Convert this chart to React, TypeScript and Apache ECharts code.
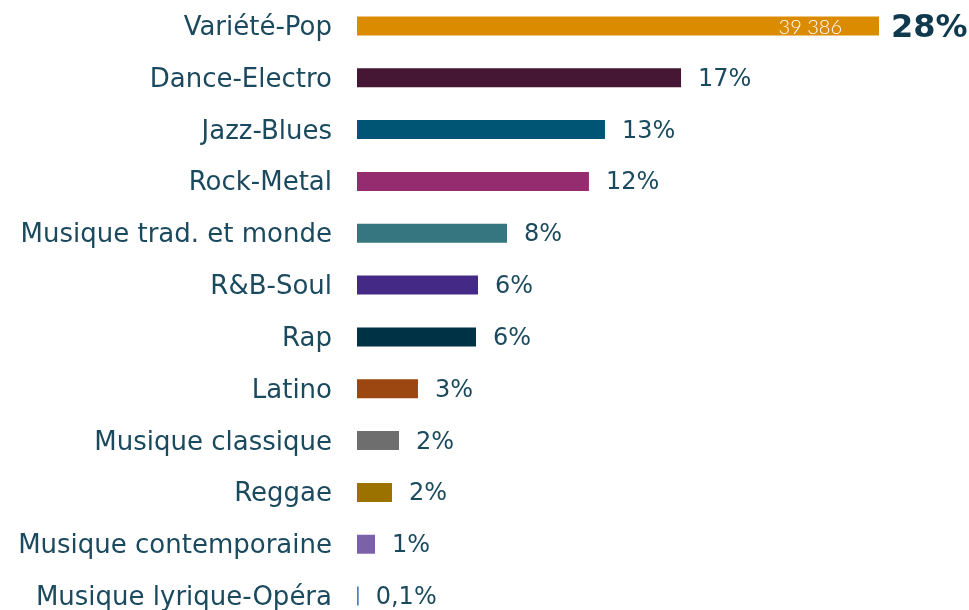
import React, { useEffect, useRef } from "react";
import * as echarts from "echarts";

const categories = [
  "Variété-Pop",
  "Dance-Electro",
  "Jazz-Blues",
  "Rock-Metal",
  "Musique trad. et monde",
  "R&B-Soul",
  "Rap",
  "Latino",
  "Musique classique",
  "Reggae",
  "Musique contemporaine",
  "Musique lyrique-Opéra",
];
const values = [39386, 24450, 18710, 17500, 11320, 9130, 8980, 4600, 3170, 2640, 1360, 130];
const percents = ["28%", "17%", "13%", "12%", "8%", "6%", "6%", "3%", "2%", "2%", "1%", "0,1%"];
const insideLabels = ["39 386", "", "", "", "", "", "", "", "", "", "", ""];
const colors = [
  "#DB8B00",
  "#461735",
  "#005574",
  "#962C70",
  "#357681",
  "#442A86",
  "#003246",
  "#9C4612",
  "#6E6E6E",
  "#9B7200",
  "#7B62A8",
  "#4F81BD",
];

const TEXT = "#1b4a5e";
const FONT = "DejaVu Sans";

export default function App() {
  const ref = useRef<HTMLDivElement>(null);
  useEffect(() => {
    if (!ref.current) return;
    const chart = echarts.init(ref.current, undefined, { renderer: "svg" });
    chart.setOption({
      animation: false,
      grid: {
        left: 357,
        right: 90,
        top: 0,
        bottom: -12,
        outerBoundsMode: "none",
        containLabel: false,
      },
      xAxis: {
        type: "value",
        min: 0,
        max: "dataMax",
        show: false,
      },
      yAxis: {
        type: "category",
        data: categories,
        inverse: true,
        axisLine: { show: false },
        axisTick: { show: false },
        axisLabel: {
          margin: 25,
          fontSize: 26,
          color: TEXT,
          fontFamily: FONT,
        },
      },
      series: [
        {
          type: "bar",
          barWidth: 19,
          data: values.map((v, i) => ({
            value: v,
            itemStyle: { color: colors[i] },
            label:
              i === 0
                ? { fontSize: 32, fontWeight: "bold", distance: 12, color: "#0f3a4e" }
                : {},
          })),
          label: {
            show: true,
            position: "right",
            distance: 17,
            fontSize: 24,
            color: TEXT,
            fontFamily: FONT,
            formatter: (p: any) => percents[p.dataIndex],
          },
        },
        {
          type: "bar",
          barWidth: 19,
          barGap: "-100%",
          silent: true,
          data: values,
          itemStyle: { color: "rgba(0,0,0,0)" },
          label: {
            show: true,
            position: "insideRight",
            distance: 37,
            fontSize: 20,
            fontWeight: 300,
            color: "#ffffff",
            fontFamily: "Lato",
            formatter: (p: any) => insideLabels[p.dataIndex],
          },
        },
      ],
    });
    return () => chart.dispose();
  }, []);
  return (
    <div
      ref={ref}
      style={{ position: "fixed", left: 0, top: 0, width: 969, height: 610 }}
    />
  );
}
